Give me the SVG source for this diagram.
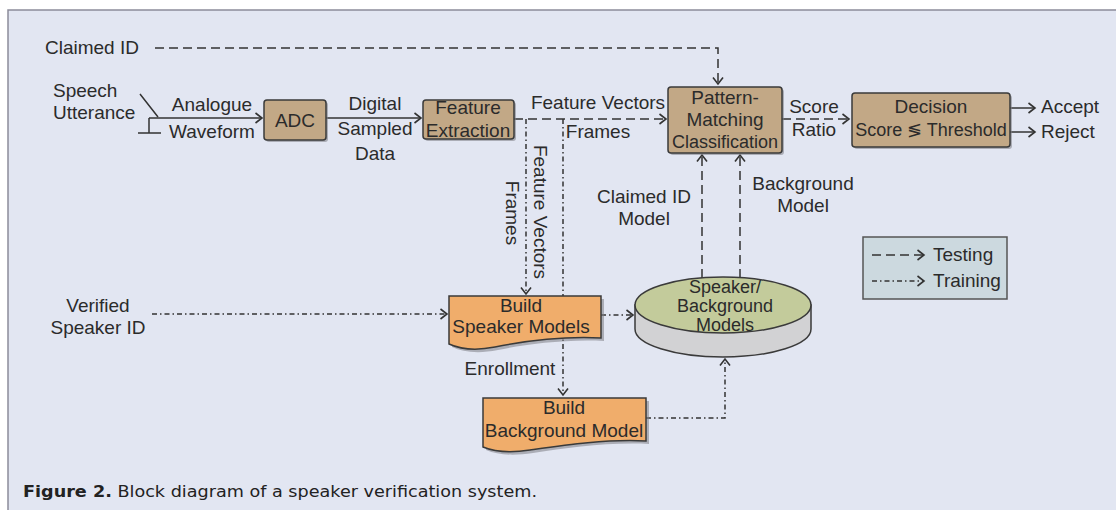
<svg xmlns="http://www.w3.org/2000/svg" width="1116" height="510" viewBox="0 0 1116 510">
<style>
  text { font-family: "Liberation Sans", Arial, sans-serif; font-size: 19px; fill: #2b2b2b; }
  .c { text-anchor: middle; }
  .sm { font-size: 18px; }
  .ln { fill: none; stroke: #333; stroke-width: 1.5; }
  .test { stroke-dasharray: 9 5; }
  .train { stroke-dasharray: 5 3 1.5 3; }
  .box { fill: #C2A886; stroke: #3a3a3a; stroke-width: 1.5; }
  .doc { fill: #F0AD6B; stroke: #3a3a3a; stroke-width: 1.5; }
  .shadow { fill: #7d7d85; opacity: 0.55; }
  .cap { font-family: "DejaVu Sans", Verdana, sans-serif; font-size: 15.5px; fill: #222; }
</style>
<defs>
  <marker id="arr" viewBox="-8 -6 10 12" refX="0" refY="0" markerWidth="10" markerHeight="12" markerUnits="userSpaceOnUse" orient="auto">
    <path d="M-6.5,-5 L0,0 L-6.5,5" fill="none" stroke="#333" stroke-width="1.6"/>
  </marker>
</defs>

<!-- panel -->
<rect x="0" y="0" width="1116" height="510" fill="#ffffff"/>
<rect x="8" y="10" width="1108" height="500" fill="#E2E6F2"/>
<path d="M8,510 V10 H1116" fill="none" stroke="#8c8c9a" stroke-width="1.5"/>

<!-- connectors -->
<g id="connectors">
  <path class="ln test" d="M155,48 H718 V84" marker-end="url(#arr)"/>
  <path class="ln" d="M140,94 L158,117 M149,118 V133 M138,133 H161"/>
  <path class="ln" d="M149,118 H262" marker-end="url(#arr)"/>
  <path class="ln" d="M326,118 H421" marker-end="url(#arr)"/>
  <path class="ln test" d="M514,119 H666" marker-end="url(#arr)"/>
  <path class="ln train" d="M526,119 V294" marker-end="url(#arr)"/>
  <path class="ln train" d="M563,119 V395" marker-end="url(#arr)"/>
  <path class="ln test" d="M782,119 H849" marker-end="url(#arr)"/>
  <path class="ln" d="M1010,108 H1035" marker-end="url(#arr)"/>
  <path class="ln" d="M1010,132 H1035" marker-end="url(#arr)"/>
  <path class="ln train" d="M152,314 H447" marker-end="url(#arr)"/>
  <path class="ln train" d="M601,315 H633" marker-end="url(#arr)"/>
  <path class="ln train" d="M646,418 H725 V359" marker-end="url(#arr)"/>
  <path class="ln test" d="M702,278 V155" marker-end="url(#arr)"/>
  <path class="ln test" d="M740,278 V155" marker-end="url(#arr)"/>
</g>

<!-- free labels -->
<g id="labels">
  <text x="45" y="54">Claimed ID</text>
  <text x="53" y="97">Speech</text>
  <text x="53" y="119">Utterance</text>
  <text class="c" x="212" y="111">Analogue</text>
  <text class="c" x="212" y="138">Waveform</text>
  <text class="c" x="375" y="110">Digital</text>
  <text class="c" x="375" y="135">Sampled</text>
  <text class="c" x="375" y="160">Data</text>
  <text class="c" x="598" y="109">Feature Vectors</text>
  <text class="c" x="598" y="138">Frames</text>
  <text class="c" x="540" y="212" transform="rotate(90 540 212)" dy="6">Feature Vectors</text>
  <text class="c" x="512" y="213" transform="rotate(90 512 213)" dy="6">Frames</text>
  <text class="c" x="814" y="113">Score</text>
  <text class="c" x="814" y="136">Ratio</text>
  <text x="1041" y="113">Accept</text>
  <text x="1041" y="138">Reject</text>
  <text class="c" x="644" y="203">Claimed ID</text>
  <text class="c" x="644" y="225">Model</text>
  <text class="c" x="803" y="190">Background</text>
  <text class="c" x="803" y="212">Model</text>
  <text class="c" x="98" y="312">Verified</text>
  <text class="c" x="98" y="334">Speaker ID</text>
  <text class="c" x="510" y="375">Enrollment</text>
</g>

<g id="adc">
  <rect class="shadow" x="266" y="102" width="62" height="40" rx="3"/>
  <rect class="box" x="264" y="100" width="62" height="40" rx="3"/>
  <text class="c" x="295" y="127">ADC</text>
</g>

<g id="feature-extraction">
  <rect class="shadow" x="425" y="102" width="91" height="39" rx="3"/>
  <rect class="box" x="423" y="100" width="91" height="39" rx="3"/>
  <text class="c" x="468" y="114">Feature</text>
  <text class="c" x="468" y="137">Extraction</text>
</g>

<g id="pattern-matching">
  <rect class="shadow" x="670" y="89" width="114" height="66" rx="3"/>
  <rect class="box" x="668" y="87" width="114" height="66" rx="3"/>
  <text class="c" x="725" y="104">Pattern-</text>
  <text class="c" x="725" y="126">Matching</text>
  <text class="c sm" x="725" y="148">Classification</text>
</g>

<g id="decision">
  <rect class="shadow" x="854" y="95" width="158" height="54" rx="3"/>
  <rect class="box" x="852" y="93" width="158" height="54" rx="3"/>
  <text class="c" x="931" y="113">Decision</text>
  <text class="c sm" x="931" y="136">Score ≶ Threshold</text>
</g>

<g id="build-speaker-models">
  <path class="shadow" d="M452,299 H604 V341 C563,339 523,345 498,350 C478,354 463,352 452,347 Z"/>
  <path class="doc" d="M449,296 H601 V338 C560,336 520,342 495,347 C475,351 460,349 449,344 Z"/>
  <text class="c" x="521" y="312">Build</text>
  <text class="c" x="521" y="333">Speaker Models</text>
</g>

<g id="build-background-model">
  <path class="shadow" d="M486,401 H649 V444 C608,442 568,448 533,453 C513,456 498,455 486,450 Z"/>
  <path class="doc" d="M483,398 H646 V441 C605,439 565,445 530,450 C510,453 495,452 483,447 Z"/>
  <text class="c" x="564" y="414">Build</text>
  <text class="c" x="564" y="437">Background Model</text>
</g>

<g id="speaker-background-models">
  <path d="M635,305 V329 A88,28 0 0 0 811,329 V305 Z" fill="#D2D2D4" stroke="#3a3a3a" stroke-width="1.5"/>
  <ellipse cx="723" cy="305" rx="88" ry="28" fill="#C3CB9B" stroke="#3a3a3a" stroke-width="1.5"/>
  <text class="c sm" x="725" y="293">Speaker/</text>
  <text class="c sm" x="725" y="312">Background</text>
  <text class="c sm" x="725" y="331">Models</text>
</g>

<g id="legend">
  <rect x="863" y="237" width="144" height="62" fill="#CCD9DF" stroke="#555" stroke-width="1.5"/>
  <path class="ln test" d="M872,255 H924" marker-end="url(#arr)"/>
  <path class="ln train" d="M872,281 H924" marker-end="url(#arr)"/>
  <text x="933" y="261">Testing</text>
  <text x="933" y="287">Training</text>
</g>

<text class="cap" x="23" y="497" textLength="514" lengthAdjust="spacingAndGlyphs"><tspan font-weight="bold">Figure 2.</tspan> Block diagram of a speaker verification system.</text>
</svg>
